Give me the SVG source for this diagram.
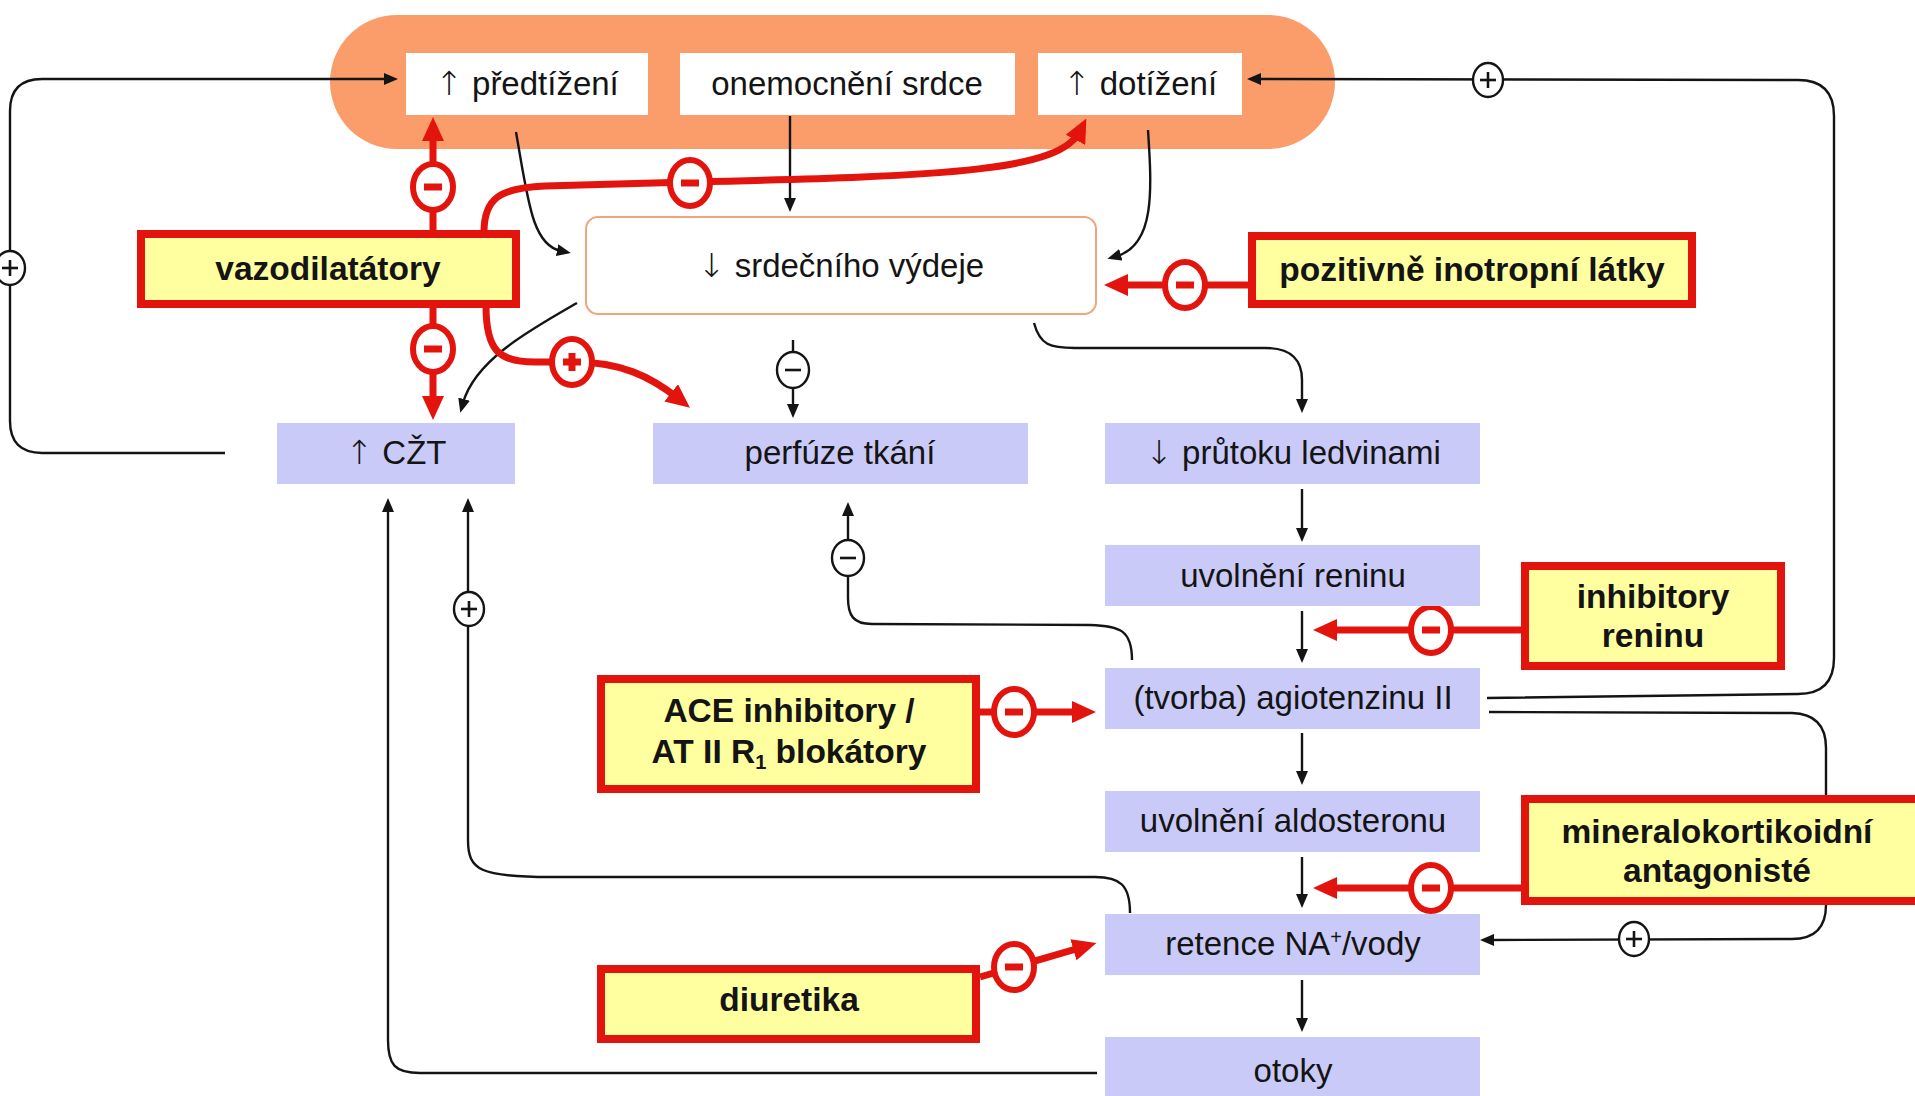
<svg xmlns="http://www.w3.org/2000/svg" xmlns:xlink="http://www.w3.org/1999/xlink" width="1915" height="1096" viewBox="0 0 1915 1096">
  <style>
    text { font-family: "Liberation Sans", Arial, sans-serif; font-size: 33px; fill: #141414; text-anchor: middle; }
    .b { font-weight: bold; font-size: 33.5px; }
    .arr { font-family: "DejaVu Sans", sans-serif; font-weight: 200; }
    .inner { fill: #ffffff; }
    .step { fill: #CACAF8; }
    .drug { fill: #FFFFA0; stroke: #E3140E; stroke-width: 8; }
    .lk-a { fill: none; stroke: #141414; stroke-width: 2.4; marker-end: url(#ahBlack); }
    .lr-a { fill: none; stroke: #E3140E; stroke-width: 7; marker-end: url(#ahRed); }
  </style>
  <defs>
    <marker id="ahBlack" markerUnits="userSpaceOnUse" markerWidth="14" markerHeight="12" viewBox="0 0 14 12" refX="4" refY="6" orient="auto">
      <path d="M0,0 L14,6 L0,12 Z" fill="#141414"/>
    </marker>
    <marker id="ahRed" markerUnits="userSpaceOnUse" markerWidth="24" markerHeight="22" viewBox="0 0 24 22" refX="10" refY="11" orient="auto">
      <path d="M0,0 L24,11 L0,22 Z" fill="#E3140E"/>
    </marker>
    <g id="rMinus">
      <ellipse rx="20" ry="23" fill="#ffffff" stroke="#E3140E" stroke-width="6"/>
      <rect x="-9" y="-3.5" width="18" height="7" fill="#E3140E"/>
    </g>
    <g id="rPlus">
      <ellipse rx="20" ry="23" fill="#ffffff" stroke="#E3140E" stroke-width="6"/>
      <rect x="-9" y="-3.5" width="18" height="7" fill="#E3140E"/>
      <rect x="-3.5" y="-9" width="7" height="18" fill="#E3140E"/>
    </g>
    <g id="bMinus">
      <ellipse rx="16" ry="18" fill="#ffffff" stroke="#141414" stroke-width="2.4"/>
      <line x1="-8" y1="0" x2="8" y2="0" stroke="#141414" stroke-width="2.6"/>
    </g>
    <g id="bPlus">
      <ellipse rx="15" ry="17" fill="#ffffff" stroke="#141414" stroke-width="2.4"/>
      <line x1="-8" y1="0" x2="8" y2="0" stroke="#141414" stroke-width="2.6"/>
      <line x1="0" y1="-8" x2="0" y2="8" stroke="#141414" stroke-width="2.6"/>
    </g>
  </defs>

  <rect width="1915" height="1096" fill="#ffffff"/>

  <!-- heart group backdrop -->
  <rect id="heart-band" x="330" y="15" width="1005" height="134" rx="67" fill="#FA9D6B"/>

  <!-- connectors (drawn under the boxes) -->
  <g id="connectors">
    <!-- black feedback lines -->
    <path class="lk-a" d="M225,453 L42,453 Q10,453 10,421 L10,111 Q10,79 42,79 L388,79"/>
    <path class="lk-a" d="M516,132 C528,200 532,245 561,251"/>
    <path class="lk-a" d="M790,116 L790,202"/>
    <path class="lk-a" d="M1148,130 C1152,190 1155,245 1117,256"/>
    <path class="lk-a" d="M577,303 C530,330 475,360 463,403"/>
    <path class="lk-a" d="M793,340 L793,408"/>
    <path class="lk-a" d="M1034,323 C1040,345 1050,348 1075,348 L1265,348 C1292,348 1302,360 1302,380 L1302,403"/>
    <path class="lk-a" d="M1302,489 L1302,532"/>
    <path class="lk-a" d="M1302,611 L1302,653"/>
    <path class="lk-a" d="M1302,733 L1302,775"/>
    <path class="lk-a" d="M1302,857 L1302,898"/>
    <path class="lk-a" d="M1302,980 L1302,1022"/>
    <path class="lk-a" d="M1132,660 C1132,630 1120,626 1090,625 L872,624 C853,624 848,615 848,598 L848,512"/>
    <path class="lk-a" d="M1487,698 L1798,694 Q1834,694 1834,658 L1834,116 Q1834,80 1798,80 L1257,79"/>
    <path class="lk-a" d="M1489,712 L1792,713 Q1826,714 1826,748 L1826,905 Q1826,939 1792,939 L1490,940"/>
    <path class="lk-a" d="M1130,913 C1130,885 1120,877 1095,877 L550,877 C480,877 468,870 468,840 L468,508"/>
    <path class="lk-a" d="M1097,1073 L420,1073 C395,1073 388,1065 388,1040 L388,508"/>

    <!-- red drug effects -->
    <path class="lr-a" d="M433,232 L433,131"/>
    <path class="lr-a" d="M433,306 L433,406"/>
    <path class="lr-a" d="M484,232 C484,198 500,188 545,186 L690,182 C960,176 1060,170 1080,131"/>
    <path class="lr-a" d="M486,306 C486,352 500,362 535,362 L575,362 C620,362 650,376 679,399"/>
    <path class="lr-a" d="M1248,285 L1118,285"/>
    <path class="lr-a" d="M1521,630 L1327,630"/>
    <path class="lr-a" d="M980,712 L1082,712" stroke-width="5"/>
    <path class="lr-a" d="M1521,888 L1327,888"/>
    <path class="lr-a" d="M980,977 L1083,947"/>

    <!-- sign markers -->
    <use xlink:href="#bPlus" x="10" y="268"/>
    <use xlink:href="#bPlus" x="1488" y="80"/>
    <use xlink:href="#bMinus" x="793" y="370"/>
    <use xlink:href="#bMinus" x="848" y="558"/>
    <use xlink:href="#bPlus" x="469" y="609"/>
    <use xlink:href="#bPlus" x="1634" y="939"/>
    <use xlink:href="#rMinus" x="433" y="187"/>
    <use xlink:href="#rMinus" x="433" y="349"/>
    <use xlink:href="#rMinus" x="690" y="183"/>
    <use xlink:href="#rPlus" x="572" y="362"/>
    <use xlink:href="#rMinus" x="1185" y="285"/>
    <use xlink:href="#rMinus" x="1431" y="630"/>
    <use xlink:href="#rMinus" x="1014" y="712"/>
    <use xlink:href="#rMinus" x="1431" y="888"/>
    <use xlink:href="#rMinus" x="1014" y="967"/>
  </g>

  <!-- nodes -->
  <g id="n-preload">
    <rect class="inner" x="406" y="53" width="242" height="62"/>
    <text x="527" y="95"><tspan class="arr">↑</tspan> předtížení</text>
  </g>
  <g id="n-heart-disease">
    <rect class="inner" x="680" y="53" width="335" height="62"/>
    <text x="847" y="95">onemocnění srdce</text>
  </g>
  <g id="n-afterload">
    <rect class="inner" x="1038" y="53" width="204" height="62"/>
    <text x="1140" y="95"><tspan class="arr">↑</tspan> dotížení</text>
  </g>
  <g id="n-output">
    <rect x="586" y="217" width="510" height="97" rx="12" fill="#ffffff" stroke="#F2A47C" stroke-width="2"/>
    <text x="841" y="277"><tspan class="arr">↓</tspan> srdečního výdeje</text>
  </g>
  <g id="n-vasodilators">
    <rect class="drug" x="141" y="234" width="375" height="70"/>
    <text class="b" x="328" y="280">vazodilatátory</text>
  </g>
  <g id="n-inotropes">
    <rect class="drug" x="1252" y="236" width="440" height="68"/>
    <text class="b" x="1472" y="281">pozitivně inotropní látky</text>
  </g>
  <g id="n-cvp">
    <rect class="step" x="277" y="423" width="238" height="61"/>
    <text x="396" y="464"><tspan class="arr">↑</tspan> CŽT</text>
  </g>
  <g id="n-perfusion">
    <rect class="step" x="653" y="423" width="375" height="61"/>
    <text x="840" y="464">perfúze tkání</text>
  </g>
  <g id="n-renal-flow">
    <rect class="step" x="1105" y="423" width="375" height="61"/>
    <text x="1293" y="464"><tspan class="arr">↓</tspan> průtoku ledvinami</text>
  </g>
  <g id="n-renin">
    <rect class="step" x="1105" y="545" width="375" height="61"/>
    <text x="1293" y="587">uvolnění reninu</text>
  </g>
  <g id="n-angiotensin">
    <rect class="step" x="1105" y="668" width="375" height="61"/>
    <text x="1293" y="709">(tvorba) agiotenzinu II</text>
  </g>
  <g id="n-aldosterone">
    <rect class="step" x="1105" y="791" width="375" height="61"/>
    <text x="1293" y="832">uvolnění aldosteronu</text>
  </g>
  <g id="n-retention">
    <rect class="step" x="1105" y="914" width="375" height="61"/>
    <text x="1293" y="955">retence NA<tspan font-size="20" dy="-11">+</tspan><tspan dy="11">/vody</tspan></text>
  </g>
  <g id="n-edema">
    <rect class="step" x="1105" y="1037" width="375" height="70"/>
    <text x="1293" y="1082">otoky</text>
  </g>
  <g id="n-renin-inhibitors">
    <rect class="drug" x="1525" y="566" width="256" height="100"/>
    <text class="b" x="1653" y="608">inhibitory</text>
    <text class="b" x="1653" y="647">reninu</text>
  </g>
  <g id="n-ace">
    <rect class="drug" x="601" y="679" width="375" height="110"/>
    <text class="b" x="789" y="722">ACE inhibitory /</text>
    <text class="b" x="789" y="763">AT II R<tspan font-size="20" dy="6">1</tspan><tspan dy="-6"> blokátory</tspan></text>
  </g>
  <g id="n-mineralocorticoid">
    <rect class="drug" x="1525" y="799" width="400" height="102"/>
    <text class="b" x="1717" y="843">mineralokortikoidní</text>
    <text class="b" x="1717" y="882">antagonisté</text>
  </g>
  <g id="n-diuretics">
    <rect class="drug" x="601" y="969" width="375" height="70"/>
    <text class="b" x="789" y="1011">diuretika</text>
  </g>
</svg>
